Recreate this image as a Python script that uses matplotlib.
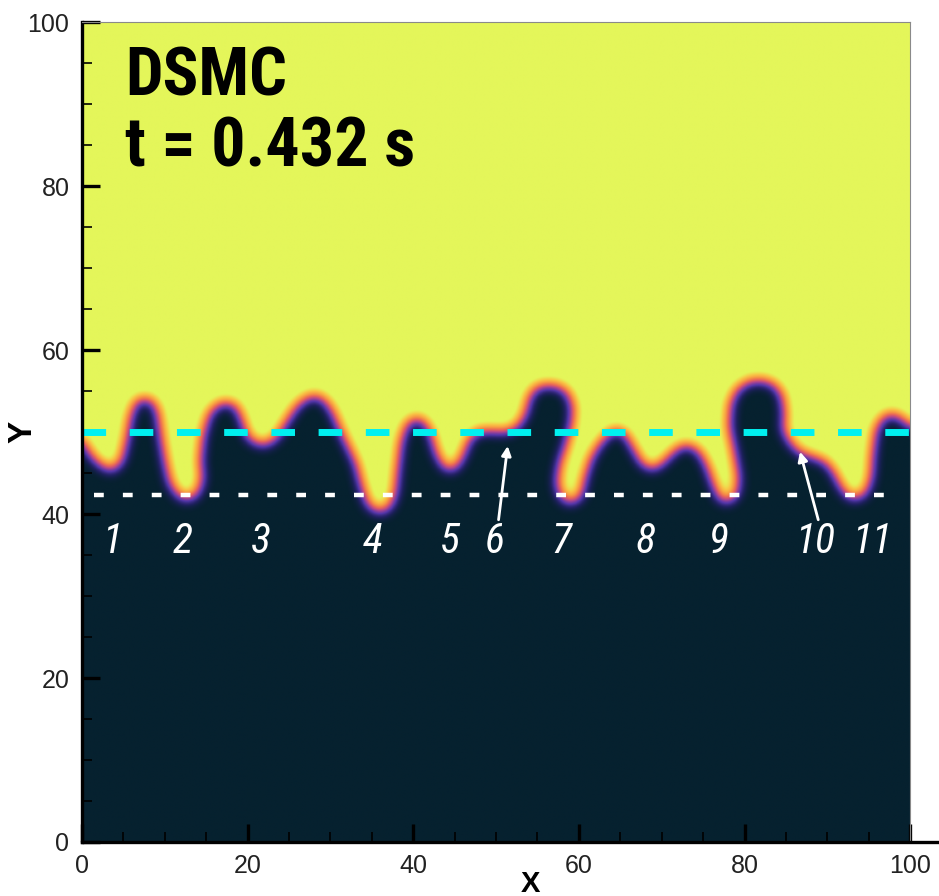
import numpy as np
import matplotlib
matplotlib.use('Agg')
from matplotlib import pyplot as plt
from matplotlib import font_manager
from matplotlib.path import Path
from matplotlib.colors import LinearSegmentedColormap

# interface between heavy (dark) and light (yellow) gas, traced left to right
interface_x = [
    0.0, 1.2, 2.5, 3.6, 4.6, 5.2, 5.7, 6.4, 7.5, 8.6, 9.3, 9.7, 10.2, 10.8,
    11.8, 12.8, 13.8, 14.3, 14.1, 14.4, 15.2, 16.3, 17.5, 18.7, 19.5, 20.0,
    21.0, 22.2, 23.4, 24.6, 25.8, 27.2, 28.3, 29.4, 30.4, 31.3, 32.3, 33.2,
    33.9, 34.6, 35.7, 36.9, 37.6, 37.9, 38.3, 39.0, 40.2, 41.3, 42.2, 42.9,
    43.9, 44.9, 45.7, 46.6, 47.8, 49.5, 51.0, 52.3, 53.3, 53.8, 54.6, 56.0,
    57.6, 58.8, 59.4, 59.2, 58.6, 57.8, 57.5, 58.0, 59.0, 60.0, 60.5, 61.2,
    62.2, 63.5, 64.6, 65.7, 66.7, 67.7, 68.8, 69.9, 71.0, 72.3, 73.5, 74.7,
    75.6, 76.4, 77.1, 78.0, 78.8, 79.0, 78.5, 77.9, 78.0, 78.8, 80.3, 82.0,
    83.5, 84.6, 84.9, 84.8, 85.7, 86.8, 88.3, 89.8, 90.8, 91.6, 92.5, 93.4,
    94.4, 95.0, 95.2, 95.6, 96.4, 97.5, 98.7, 100.0,
]
interface_y = [
    49.3, 47.3, 46.0, 45.4, 46.5, 49.0, 52.0, 53.8, 54.3, 53.9, 52.5, 49.5,
    46.5, 43.8, 42.3, 41.9, 42.6, 44.3, 46.5, 49.5, 52.3, 53.5, 53.8, 53.3,
    51.5, 49.7, 48.8, 48.6, 49.5, 51.5, 53.3, 54.4, 54.6, 54.0, 52.5, 50.3,
    48.2, 46.3, 43.5, 41.3, 40.4, 40.8, 42.5, 45.5, 48.8, 51.0, 51.9, 51.5,
    50.0, 47.5, 45.6, 45.6, 47.0, 49.3, 50.3, 50.3, 50.2, 50.6, 52.2, 54.3,
    55.5, 55.9, 55.7, 54.8, 53.0, 50.8, 48.5, 46.0, 43.8, 42.0, 41.5, 42.2,
    44.5, 46.8, 48.5, 50.0, 50.5, 49.8, 48.0, 46.2, 45.6, 46.3, 47.5, 48.5,
    48.5, 47.6, 45.8, 43.5, 41.9, 41.6, 42.5, 44.5, 47.5, 50.5, 53.3, 55.2,
    56.3, 56.5, 56.0, 54.6, 52.4, 50.3, 48.6, 47.6, 47.1, 46.5, 45.2, 43.6,
    42.3, 42.0, 42.7, 44.5, 47.5, 50.3, 51.8, 52.4, 52.0, 50.8,
]

# reference levels
cyan_level = 50.0
white_level = 42.3

# bubble/spike labels
label_text = ['1', '2', '3', '4', '5', '6', '7', '8', '9', '10', '11']
label_x = [3.6, 12.2, 21.6, 35.1, 44.4, 49.9, 57.9, 68.1, 76.9, 88.5, 95.4]
label_y = 36.6

# arrows for labels 6 and 10
arrow_tail = [(50.3, 39.3), (88.9, 39.3)]
arrow_tip = [(51.4, 48.3), (86.7, 47.6)]

NAVY = '#06212f'
YELLOW = '#e4f65a'


def pick_font(cands, default='DejaVu Sans'):
    names = {f.name for f in font_manager.fontManager.ttflist}
    for c in cands:
        if c in names:
            return c
    return default


def blur(a, sigma):
    """Separable gaussian blur (edge padded)."""
    r = int(3 * sigma)
    k = np.exp(-0.5 * (np.arange(-r, r + 1) / sigma) ** 2)
    k /= k.sum()
    for axis in (0, 1):
        pad = [(0, 0), (0, 0)]
        pad[axis] = (r, r)
        p = np.pad(a, pad, mode='edge')
        n = a.shape[axis]
        out = np.zeros_like(a)
        for i, w in enumerate(k):
            out += w * np.take(p, np.arange(i, i + n), axis=axis)
        a = out
    return a


# density-like field from the interface
n = 1000
gx = (np.arange(n) + 0.5) * 100.0 / n
X, Y = np.meshgrid(gx, gx)
verts = list(zip(interface_x, interface_y)) + [(100.0, 0.0), (0.0, 0.0)]
inside = Path(verts).contains_points(np.column_stack([X.ravel(), Y.ravel()]))
field = 1.0 - inside.reshape(n, n).astype(float)
field = blur(field, 7.5)

cmap = LinearSegmentedColormap.from_list('rt', [
    (0.0, NAVY), (0.07, '#1e205e'), (0.2, '#5536ab'), (0.36, '#b0468f'),
    (0.5, '#e8645a'), (0.64, '#f69344'), (0.8, '#f9c445'), (0.93, YELLOW),
    (1.0, YELLOW),
])

title_font = pick_font(['Roboto Condensed', 'Liberation Sans Narrow', 'Roboto'])
label_font = pick_font(['Roboto Condensed', 'Open Sans', 'Roboto'])
tick_font = pick_font(['Liberation Sans', 'DejaVu Sans'])

fig = plt.figure(figsize=(9.39, 8.96), dpi=100)
ax = fig.add_axes([0.0873, 0.0603, 0.882, 0.915])

ax.imshow(field, extent=[0, 100, 0, 100], origin='lower', cmap=cmap,
          vmin=0, vmax=1, interpolation='bilinear', aspect='auto')

ax.plot([0, 100], [cyan_level, cyan_level], color='#00f0f0', lw=5,
        dashes=(3.4, 3.4), solid_capstyle='butt', dash_capstyle='butt')
ax.plot([1.5, 98.5], [white_level, white_level], color='white', lw=3.2,
        dashes=(2.2, 4.3), dash_capstyle='butt')

for txt, x in zip(label_text, label_x):
    ax.text(x, label_y, txt, color='white', fontsize=30, style='italic',
            family=label_font, ha='center', va='center')

for tail, tip in zip(arrow_tail, arrow_tip):
    ax.annotate('', xy=tip, xytext=tail,
                arrowprops=dict(arrowstyle='-|>', color='white', lw=2,
                                mutation_scale=14, shrinkA=0, shrinkB=0))

ax.text(5.2, 91.0, 'DSMC', fontsize=48, fontweight='bold',
        family=title_font, va='baseline')
ax.text(5.2, 82.4, 't = 0.432 s', fontsize=49, fontweight='bold',
        family=title_font, va='baseline')

ax.set_xlim(0, 100)
ax.set_ylim(0, 100)
ax.set_xticks(range(0, 101, 20))
ax.set_yticks(range(0, 101, 20))
ax.set_xticks(range(0, 101, 5), minor=True)
ax.set_yticks(range(0, 101, 5), minor=True)
ax.tick_params(which='major', direction='in', length=13, width=2.4,
               labelsize=18, pad=9, colors='black', labelcolor='#222222')
ax.tick_params(which='minor', direction='in', length=7, width=1.2)
for lab in ax.get_xticklabels() + ax.get_yticklabels():
    lab.set_family(tick_font)

for side in ('left', 'bottom'):
    ax.spines[side].set_linewidth(2.4)
ax.spines['bottom'].set_bounds(0, 103.2)
for side in ('top', 'right'):
    ax.spines[side].set_linewidth(0.8)
    ax.spines[side].set_color('#8a8a8a')

ax.set_xlabel('X', fontsize=21, fontweight='bold', family=tick_font)
ax.set_ylabel('Y', fontsize=24, fontweight='bold', family=tick_font)
ax.xaxis.set_label_coords(0.542, -0.034)
ax.yaxis.set_label_coords(-0.053, 0.5)

fig.savefig('out.png', dpi=100)
